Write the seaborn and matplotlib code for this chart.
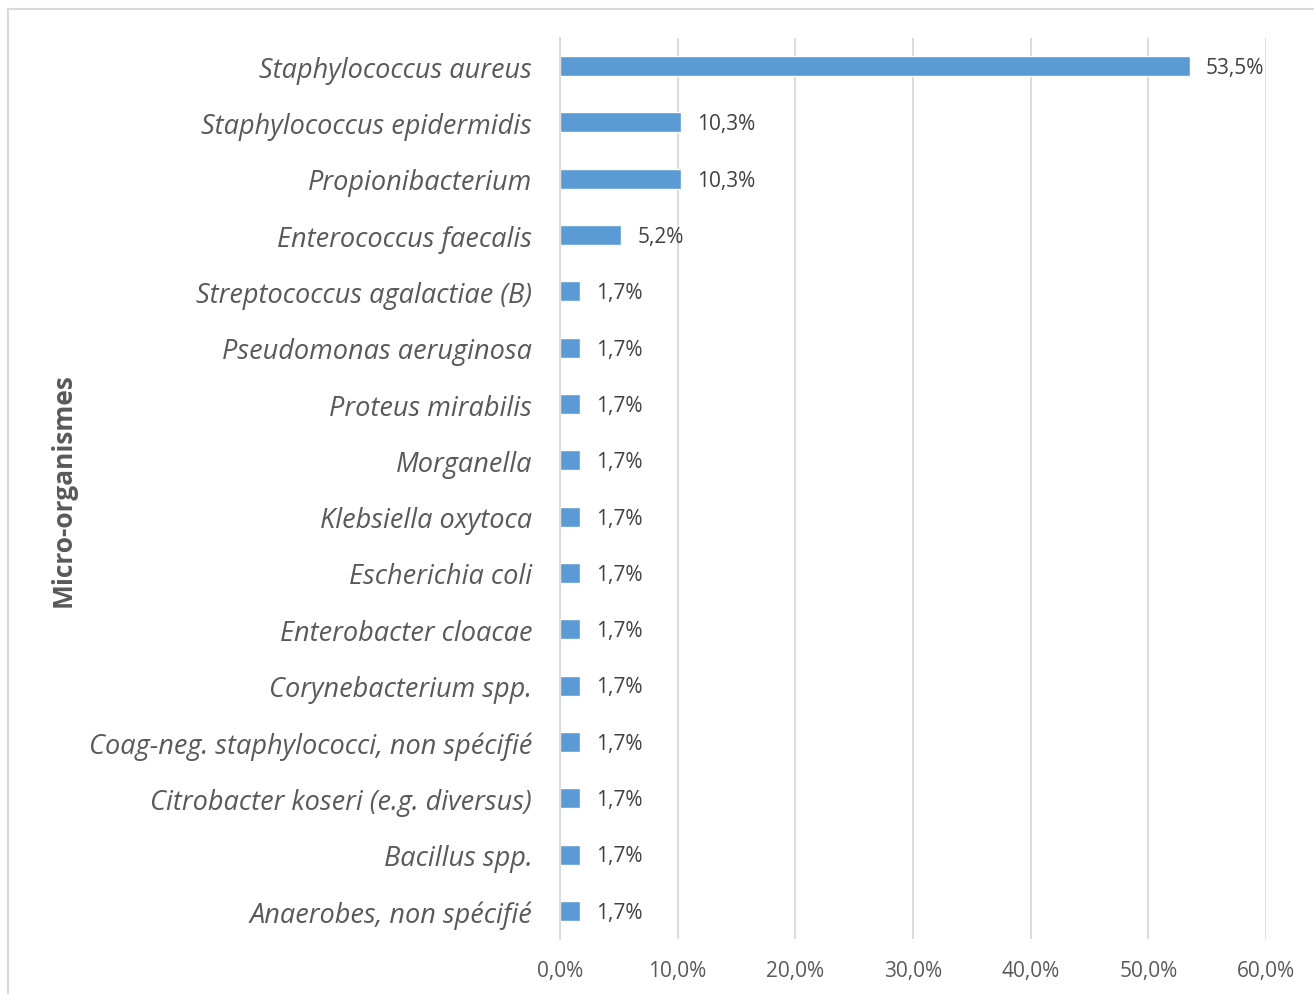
import pandas as pd
import seaborn as sns
import matplotlib.pyplot as plt
from matplotlib.patches import Rectangle

organisms = [
    "Staphylococcus aureus",
    "Staphylococcus epidermidis",
    "Propionibacterium",
    "Enterococcus faecalis",
    "Streptococcus agalactiae (B)",
    "Pseudomonas aeruginosa",
    "Proteus mirabilis",
    "Morganella",
    "Klebsiella oxytoca",
    "Escherichia coli",
    "Enterobacter cloacae",
    "Corynebacterium spp.",
    "Coag-neg. staphylococci, non spécifié",
    "Citrobacter koseri (e.g. diversus)",
    "Bacillus spp.",
    "Anaerobes, non spécifié",
]
percent = [53.5, 10.3, 10.3, 5.2, 1.7, 1.7, 1.7, 1.7, 1.7, 1.7, 1.7, 1.7, 1.7, 1.7, 1.7, 1.7]
x_ticks = [0, 10, 20, 30, 40, 50, 60]

df = pd.DataFrame({"organism": organisms, "percent": percent})

sns.set_style("white")
plt.rcParams["font.family"] = ["Open Sans", "DejaVu Sans"]

fig = plt.figure(figsize=(13.14, 9.95), dpi=100)
ax = fig.add_axes([560 / 1314, 1 - 940 / 995, 706 / 1314, 901 / 995])

sns.barplot(data=df, x="percent", y="organism", color="#5B9BD5",
            saturation=1, width=0.355, ax=ax)

ax.set_xlim(0, 60)
ax.set_ylim(15.5, -0.5)
ax.set_xticks(x_ticks)
ax.set_xticklabels([f"{t:.1f}%".replace(".", ",") for t in x_ticks],
                   fontsize=15, color="#595959")
ax.tick_params(axis="x", length=0, pad=15)
ax.tick_params(axis="y", length=0, pad=20)
for lab in ax.get_yticklabels():
    lab.set_fontstyle("italic")
    lab.set_fontsize(19.5)
    lab.set_color("#595959")

ax.grid(axis="x", color="#D9D9D9", linewidth=1.3)
ax.set_axisbelow(True)
for side in ["top", "right", "bottom"]:
    ax.spines[side].set_visible(False)
ax.spines["left"].set_color("#D9D9D9")
ax.spines["left"].set_linewidth(1.3)

for i, v in enumerate(percent):
    ax.annotate(f"{v:.1f}%".replace(".", ","), xy=(v, i), xytext=(11.5, -1),
                textcoords="offset points", va="center", ha="left",
                fontsize=15, color="#404040")

ax.set_xlabel("")
ax.set_ylabel("")
fig.text(63 / 1314, 1 - 490 / 995, "Micro-organismes", rotation=90,
         ha="center", va="center", fontsize=19, fontweight="bold", color="#595959")

fig.patches.append(Rectangle((8 / 1314, -0.05), 1.1, 1 - 10 / 995 + 0.05,
                             transform=fig.transFigure, fill=False,
                             edgecolor="#D9D9D9", linewidth=1.5))

fig.savefig("out.png", dpi=100)
